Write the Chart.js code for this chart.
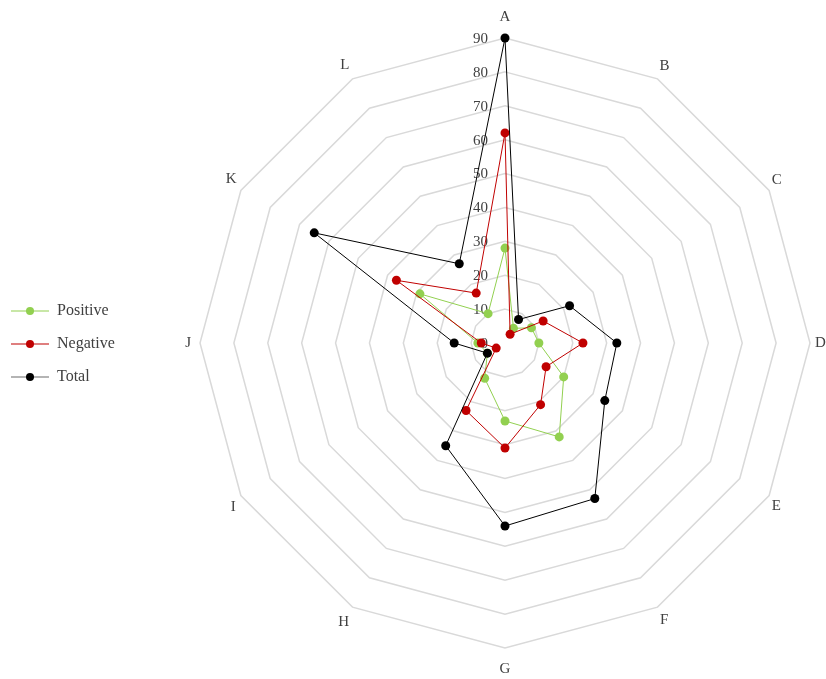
<!DOCTYPE html>
<html>
<head>
<meta charset="utf-8">
<script src="https://cdn.jsdelivr.net/npm/chart.js@4.4.0/dist/chart.umd.min.js"></script>
<style>
  html, body { margin: 0; padding: 0; background: #fff; overflow: hidden; }
  /* the canvas runs a little past the right edge, so the D label is cut like in the original */
  #chart { display: block; }
</style>
</head>
<body>
<canvas id="chart" width="886" height="679"></canvas>
<script>
const categories = ["A", "B", "C", "D", "E", "F", "G", "H", "I", "J", "K", "L"];
const positive = [28, 5, 9, 10, 20, 32, 23, 12, 6, 8, 29, 10];
const negative = [62, 3, 13, 23, 14, 21, 31, 23, 3, 7, 37, 17];
const total = [90, 8, 22, 33, 34, 53, 54, 35, 6, 15, 65, 27];
const axisMax = 90;
const axisStep = 10;

const serif = "'Liberation Serif', 'Times New Roman', serif";
const textColor = "#404040";
const labelPadding = [12, 4, 3, 5, 3, 5, 12, 7, 6, 9, 5, 6];

// little "line with a dot" icons for the legend
function legendIcon(lineColor, dotColor) {
  const c = document.createElement("canvas");
  c.width = 38;
  c.height = 12;
  const g = c.getContext("2d");
  g.strokeStyle = lineColor;
  g.lineWidth = 1.2;
  g.beginPath();
  g.moveTo(0, 6);
  g.lineTo(38, 6);
  g.stroke();
  g.fillStyle = dotColor;
  g.beginPath();
  g.arc(19, 6, 4, 0, Math.PI * 2);
  g.fill();
  return c;
}
const icons = [
  legendIcon("#92d050", "#92d050"),
  legendIcon("#c00000", "#c00000"),
  legendIcon("#6a6a6a", "#000000")
];

// tick numbers sit just left of the A axis, under the data lines
const tickLabels = {
  id: "tickLabels",
  beforeDatasetsDraw(chart) {
    const r = chart.scales.r;
    const ctx = chart.ctx;
    ctx.save();
    ctx.font = "15px " + serif;
    ctx.fillStyle = textColor;
    ctx.textAlign = "right";
    ctx.textBaseline = "middle";
    r.ticks.forEach(t => {
      const p = r.getPointPositionForValue(0, t.value);
      ctx.fillText(t.label, p.x - 17, p.y + 1);
    });
    ctx.restore();
  }
};

function series(label, data, color, order) {
  return {
    label: label,
    data: data,
    borderColor: color,
    backgroundColor: color,
    borderWidth: 1,
    fill: false,
    pointRadius: 4.5,
    pointBorderWidth: 0,
    pointBackgroundColor: color,
    order: order
  };
}

const chart = new Chart(document.getElementById("chart"), {
  type: "radar",
  data: {
    labels: categories,
    datasets: [
      series("Positive", positive, "#92d050", 3),
      series("Negative", negative, "#c00000", 2),
      series("Total", total, "#000000", 1)
    ]
  },
  options: {
    responsive: false,
    devicePixelRatio: 1,
    animation: false,
    layout: { padding: { top: 8, bottom: -1, left: -6, right: 0 } },
    plugins: {
      tooltip: { enabled: false },
      legend: {
        position: "left",
        reverse: true,
        labels: {
          usePointStyle: true,
          pointStyleWidth: 38,
          padding: 17,
          color: textColor,
          font: { family: serif, size: 16 },
          generateLabels(c) {
            const items = Chart.defaults.plugins.legend.labels.generateLabels(c);
            items.forEach(it => { it.pointStyle = icons[it.datasetIndex]; });
            return items;
          }
        }
      }
    },
    scales: {
      r: {
        min: 0,
        max: axisMax,
        ticks: { stepSize: axisStep, display: false },
        angleLines: { display: false },
        grid: { color: "#d9d9d9", lineWidth: 1.5 },
        pointLabels: {
          color: textColor,
          padding: ctx => labelPadding[ctx.index],
          font: { family: serif, size: 15 }
        }
      }
    }
  },
  plugins: [tickLabels]
});
</script>
</body>
</html>
